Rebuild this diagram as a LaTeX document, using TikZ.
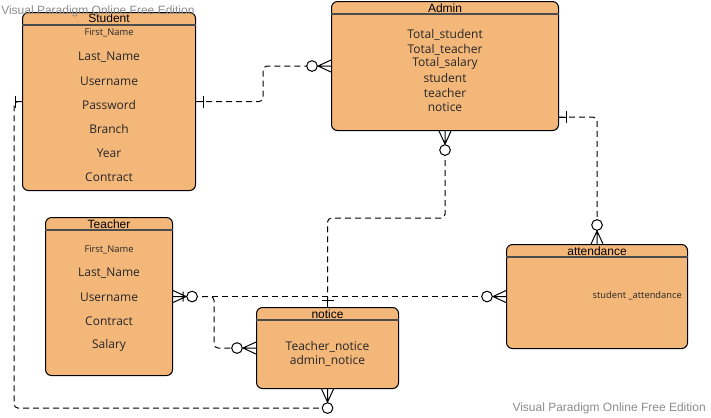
\documentclass[tikz,border=0pt]{standalone}
\usepackage{fontspec}
\setmainfont{Open Sans}
\newfontfamily\titlefont{Liberation Sans}
\usetikzlibrary{calc}
\definecolor{entityfill}{HTML}{F4B77A}
\definecolor{markgray}{HTML}{8C8C8C}
\tikzset{
    entity/.style={draw, fill=entityfill, rounded corners=4.5pt, line width=0.8pt, inner sep=0pt},
    headline/.style={line width=0.8pt, black!70},
    enttitle/.style={font=\titlefont\fontsize{9}{10}\selectfont, inner sep=0pt},
    attr/.style={font=\fontsize{9}{10}\selectfont, inner sep=0pt, text=black!85},
    smallattr/.style={font=\fontsize{7}{8}\selectfont, inner sep=0pt, text=black!85},
    rel/.style={dash pattern=on 4.5pt off 3pt, line width=0.75pt, rounded corners=3pt},
    watermark/.style={font=\titlefont\fontsize{9}{10}\selectfont, text=markgray, inner sep=0pt},
    zeromany/.pic={
        \draw[line width=0.75pt] (0,0) -- (-13,0) (0,-6) -- (-13,0) -- (0,6);
        \draw[line width=0.75pt, fill=white] (-19,0) circle [radius=4pt];
    },
    zeromanybar/.pic={
        \draw[line width=0.75pt] (0,0) -- (-13,0) (0,-6) -- (-13,0) -- (0,6)
              (-10,-5) -- (-10,5);
        \draw[line width=0.75pt, fill=white] (-19,0) circle [radius=4pt];
    },
    onlyone/.pic={
        \draw[line width=0.75pt] (0,0) -- (-7,0) (-7,-6) -- (-7,6);
    }
}

\begin{document}
\begin{tikzpicture}[x=0.75pt, y=-0.75pt]
    \useasboundingbox (0,0) rectangle (711,418);

    % entities
    \node[entity, anchor=north west, minimum width=129.75pt, minimum height=133.5pt] (student) at (22,12) {};
    \node[entity, anchor=north west, minimum width=170.25pt, minimum height=96.75pt] (admin) at (331,1) {};
    \node[entity, anchor=north west, minimum width=95.25pt, minimum height=118.5pt] (teacher) at (45,217) {};
    \node[entity, anchor=north west, minimum width=106.5pt, minimum height=60.75pt] (notice) at (256,307) {};
    \node[entity, anchor=north west, minimum width=135.75pt, minimum height=78pt] (attendance) at (506,244) {};

    \foreach \e in {student, admin, teacher, notice, attendance}
        \draw[headline] ($(\e.north west)+(0,13)$) -- ($(\e.north east)+(0,13)$);

    % titles
    \node[enttitle] (student-title) at ($(student.north)+(0,6)$) {Student};
    \node[enttitle] (admin-title) at ($(admin.north)+(0,7)$) {Admin};
    \node[enttitle] (teacher-title) at ($(teacher.north)+(0,7)$) {Teacher};
    \node[enttitle] (notice-title) at ($(notice.north)+(0,7)$) {notice};
    \node[enttitle] (attendance-title) at ($(attendance.north)+(0,7)$) {attendance};

    % attributes
    \node[smallattr] (student-0) at ($(student.north)+(0,21)$) {First\_Name};
    \foreach \a [count=\i] in {Last\_Name, Username, Password, Branch, Year, Contract}
        \node[attr] (student-\i) at ($(student.north)+(0,21+24*\i)$) {\a};

    \node[smallattr] (teacher-0) at ($(teacher.north)+(0,33)$) {First\_Name};
    \foreach \a [count=\i] in {Last\_Name, Username, Contract, Salary}
        \node[attr] (teacher-\i) at ($(teacher.north)+(0,32+24*\i)$) {\a};

    \foreach \a [count=\i] in {Total\_student, Total\_teacher, Total\_salary, student, teacher, notice}
        \node[attr] (admin-\i) at ($(admin.north)+(0,19.6+14.4*\i)$) {\a};

    \foreach \a [count=\i] in {Teacher\_notice, admin\_notice}
        \node[attr] (notice-\i) at ($(notice.north)+(0,25+14.4*\i)$) {\a};

    \node[smallattr, anchor=east] (attendance-1) at ($(attendance.east)+(-6,-1)$) {student \_attendance};

    % relations
    \draw[rel] (student.east) -- ++(67,0) |- ($(admin.west)+(-19,0)$);
    \draw[rel] ($(admin.south)+(0,19)$) -- ++(0,68) -| (notice.north);
    \draw[rel] ($(admin.south east)+(0,-14)$) -| ($(attendance.north)+(0,-19)$);
    \draw[rel] ($(teacher.east)+(19,0)$) -- ($(attendance.west)+(-19,0)$);
    \draw[rel] ($(teacher.east)+(19,0)$) -- ++(22,0) |- ($(notice.west)+(-19,0)$);
    \draw[rel] (student.west) -- ++(-8,0) |- ($(notice.south)+(0,19)$);

    % ends
    \pic[rotate=180] at (student.east) {onlyone};
    \pic at (student.west) {onlyone};
    \pic at (admin.west) {zeromany};
    \pic[rotate=90] at (admin.south) {zeromany};
    \pic[rotate=180] at ($(admin.south east)+(0,-14)$) {onlyone};
    \pic[rotate=-90] at (attendance.north) {zeromany};
    \pic at (attendance.west) {zeromany};
    \pic[rotate=180] at (teacher.east) {zeromanybar};
    \pic at (notice.west) {zeromany};
    \pic[rotate=90] at (notice.south) {zeromany};
    \pic[rotate=-90] at (notice.north) {onlyone};

    % watermarks
    \node[watermark, anchor=west] (wm-top) at (1,11) {Visual Paradigm Online Free Edition};
    \node[watermark, anchor=east] (wm-bottom) at (706,408) {Visual Paradigm Online Free Edition};
\end{tikzpicture}
\end{document}
